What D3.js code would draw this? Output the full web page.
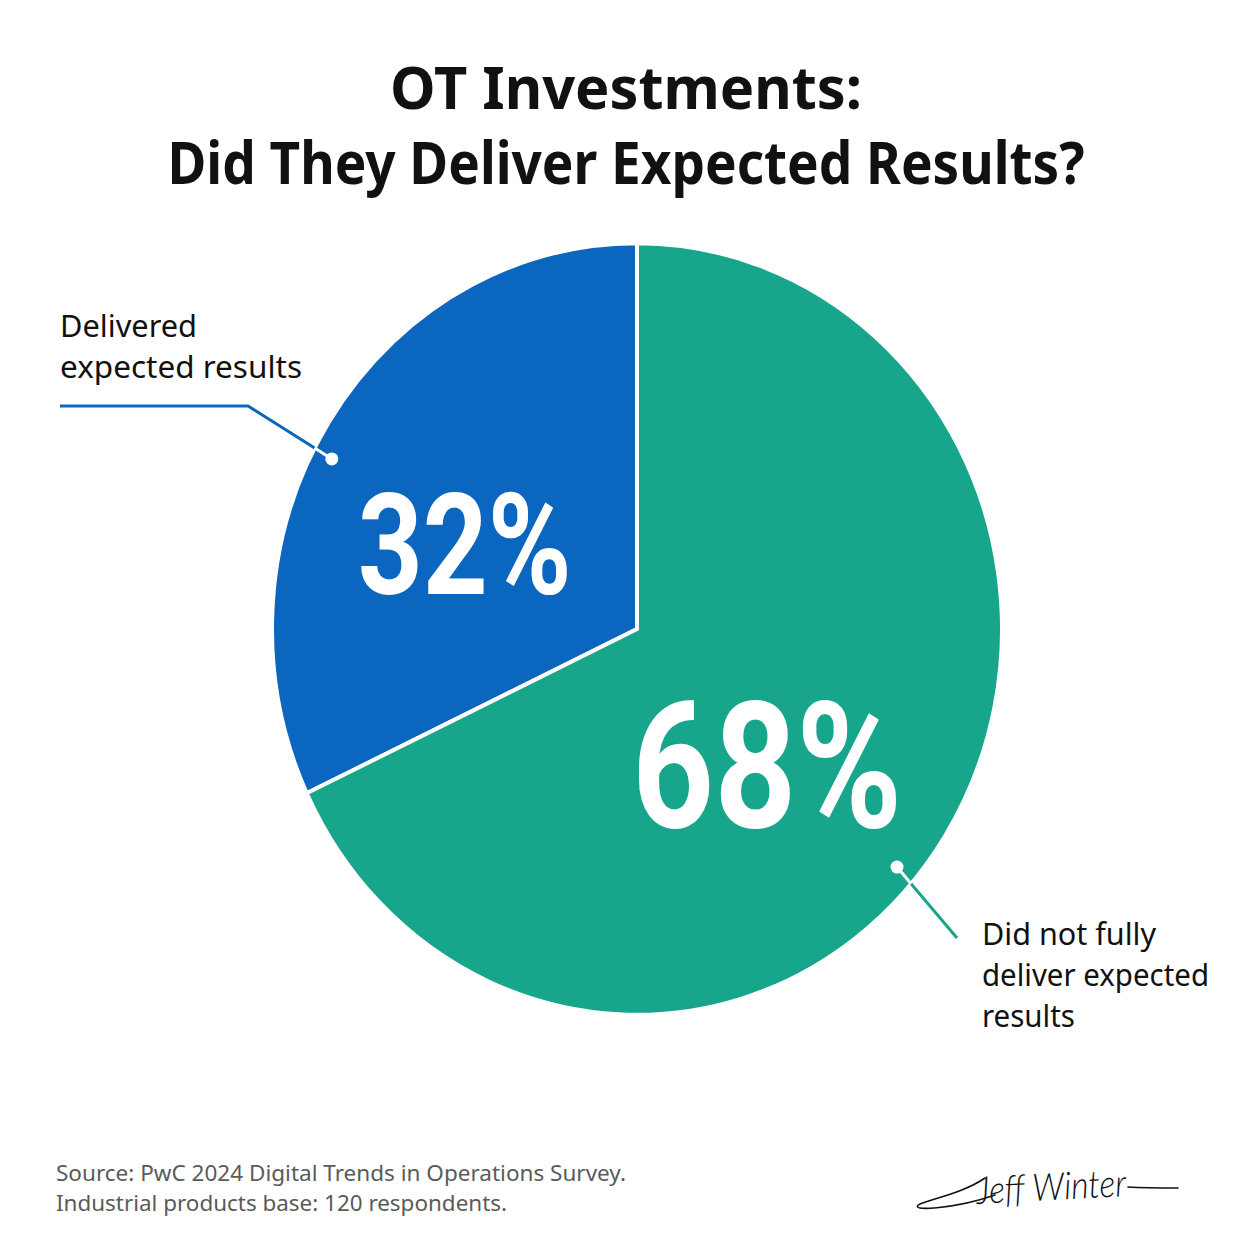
<!DOCTYPE html>
<html>
<head>
<meta charset="utf-8">
<script src="https://cdn.jsdelivr.net/npm/d3@7/dist/d3.min.js"></script>
<style>
  html, body { margin: 0; padding: 0; background: #ffffff; }
  svg { display: block; }
</style>
</head>
<body>
<script>
// ---------- data ----------
const categories = ["Delivered expected results", "Did not fully deliver expected results"];
const values = [32, 68];
const valueLabels = ["32%", "68%"];
const sliceColors = ["#0A66BE", "#17A68B"];
const labelLines = [["Delivered", "expected results"], ["Did not fully", "deliver expected", "results"]];
const titleLines = ["OT Investments:", "Did They Deliver Expected Results?"];
const sourceLines = ["Source: PwC 2024 Digital Trends in Operations Survey.", "Industrial products base: 120 respondents."];
const signature = "Jeff Winter";

// ---------- layout ----------
const W = 1254, H = 1254;
const cx = 637, cy = 629, R = 365, yStretch = 1.057;
const svg = d3.select("body").append("svg").attr("width", W).attr("height", H);
svg.append("rect").attr("width", W).attr("height", H).attr("fill", "#ffffff");

// title
const title = svg.append("g").attr("font-family", "'Noto Sans', 'Open Sans', sans-serif")
  .attr("font-weight", 700).attr("fill", "#111111").attr("text-anchor", "middle");
const titleSpec = [{y: 109, len: 472, x: 626}, {y: 184, len: 917, x: 626}];
titleLines.forEach((t, i) => {
  title.append("text").attr("x", titleSpec[i].x).attr("y", titleSpec[i].y)
    .attr("font-size", 60).attr("textLength", titleSpec[i].len)
    .attr("lengthAdjust", "spacingAndGlyphs").text(t);
});

// pie
const total = d3.sum(values);
const start = -values[0] / total * 2 * Math.PI;
const pie = d3.pie().sort(null).startAngle(start).endAngle(start + 2 * Math.PI);
const arcs = pie(values);
const arc = d3.arc().innerRadius(0).outerRadius(R);

const pg = svg.append("g").attr("transform", `translate(${cx},${cy}) scale(1,${yStretch})`);
pg.selectAll("path").data(arcs).enter().append("path")
  .attr("d", arc).attr("fill", (d, i) => sliceColors[i])
  .attr("stroke", "#ffffff").attr("stroke-width", 4)
  .attr("vector-effect", "non-scaling-stroke").attr("stroke-linejoin", "miter");

// polar helper (angle clockwise from top), returns page coords
function polar(angle, r) {
  return [cx + r * Math.sin(angle), cy - r * Math.cos(angle) * yStretch];
}
function inside(p) {
  const dx = (p[0] - cx) / R, dy = (p[1] - cy) / (R * yStretch);
  return dx * dx + dy * dy <= 1;
}
function edgePoint(a, b) { // a inside, b outside
  let lo = 0, hi = 1;
  for (let k = 0; k < 40; k++) {
    const m = (lo + hi) / 2;
    const p = [a[0] + (b[0] - a[0]) * m, a[1] + (b[1] - a[1]) * m];
    if (inside(p)) lo = m; else hi = m;
  }
  return [a[0] + (b[0] - a[0]) * lo, a[1] + (b[1] - a[1]) * lo];
}

// percentage labels
const pctSpec = [
  {angleOff: -0.13, r: 190, size: 141, len: 214, dy: 50},
  {angleOff: 0.215, r: 183, size: 176, len: 270, dy: 62}
];
arcs.forEach((d, i) => {
  const mid = (d.startAngle + d.endAngle) / 2 + pctSpec[i].angleOff;
  const p = polar(mid, pctSpec[i].r);
  svg.append("text").attr("x", p[0]).attr("y", p[1] + pctSpec[i].dy)
    .attr("text-anchor", "middle").attr("font-family", "Roboto, 'Liberation Sans', sans-serif")
    .attr("font-weight", 700).attr("font-size", pctSpec[i].size)
    .attr("textLength", pctSpec[i].len).attr("lengthAdjust", "spacingAndGlyphs")
    .attr("fill", "#ffffff").text(valueLabels[i]);
});

// leader lines + category labels
const leaderSpec = [
  {dotAngle: -62.2 * Math.PI / 180, dotR: 345, path: [[248, 406], [60, 406]],
   textX: 60, textY: 337, anchor: "start", lens: [137, 242]},
  {dotAngle: 130.9 * Math.PI / 180, dotR: 344, path: [[957, 938]],
   textX: 982, textY: 945, anchor: "start", lens: [174, 227, 93]}
];
leaderSpec.forEach((s, i) => {
  const dot = polar(s.dotAngle, s.dotR);
  const first = s.path[0];
  const e = edgePoint(dot, first);
  const pts = [e].concat(s.path);
  svg.append("path").attr("d", d3.line()(pts)).attr("fill", "none")
    .attr("stroke", sliceColors[i]).attr("stroke-width", 3).attr("stroke-linejoin", "miter");
  svg.append("line").attr("x1", dot[0]).attr("y1", dot[1]).attr("x2", e[0]).attr("y2", e[1])
    .attr("stroke", "#ffffff").attr("stroke-width", 3);
  svg.append("circle").attr("cx", dot[0]).attr("cy", dot[1]).attr("r", 6.5).attr("fill", "#ffffff");
  labelLines[i].forEach((t, j) => {
    svg.append("text").attr("x", s.textX).attr("y", s.textY + j * 41)
      .attr("font-family", "'Noto Sans', 'Open Sans', sans-serif").attr("font-size", 31)
      .attr("fill", "#111111").attr("text-anchor", s.anchor)
      .attr("textLength", s.lens[j]).attr("lengthAdjust", "spacingAndGlyphs").text(t);
  });
});

// source
const srcLens = [570, 451];
sourceLines.forEach((t, i) => {
  svg.append("text").attr("x", 56).attr("y", 1181 + i * 30)
    .attr("font-family", "'Noto Sans', 'Open Sans', sans-serif").attr("font-size", 22)
    .attr("fill", "#5a5a5a").attr("textLength", srcLens[i]).attr("lengthAdjust", "spacingAndGlyphs")
    .text(t);
});

// signature
const sig = svg.append("g").attr("fill", "none").attr("stroke", "#111").attr("stroke-width", 1.6)
  .attr("stroke-linecap", "round");
sig.append("path").attr("d", "M985,1178 C965,1192 935,1198 920,1204 C905,1212 955,1209 995,1195");
sig.append("path").attr("d", "M1128,1187 C1145,1188 1162,1188 1178,1188");
svg.append("text").attr("x", 1052).attr("y", 1200).attr("text-anchor", "middle")
  .attr("font-family", "Lato, 'DejaVu Sans', sans-serif").attr("font-style", "italic")
  .attr("font-weight", 300).attr("font-size", 38).attr("fill", "#111")
  .attr("transform", "rotate(-3,1052,1200)")
  .attr("textLength", 150).attr("lengthAdjust", "spacingAndGlyphs").text(signature);
</script>
</body>
</html>
